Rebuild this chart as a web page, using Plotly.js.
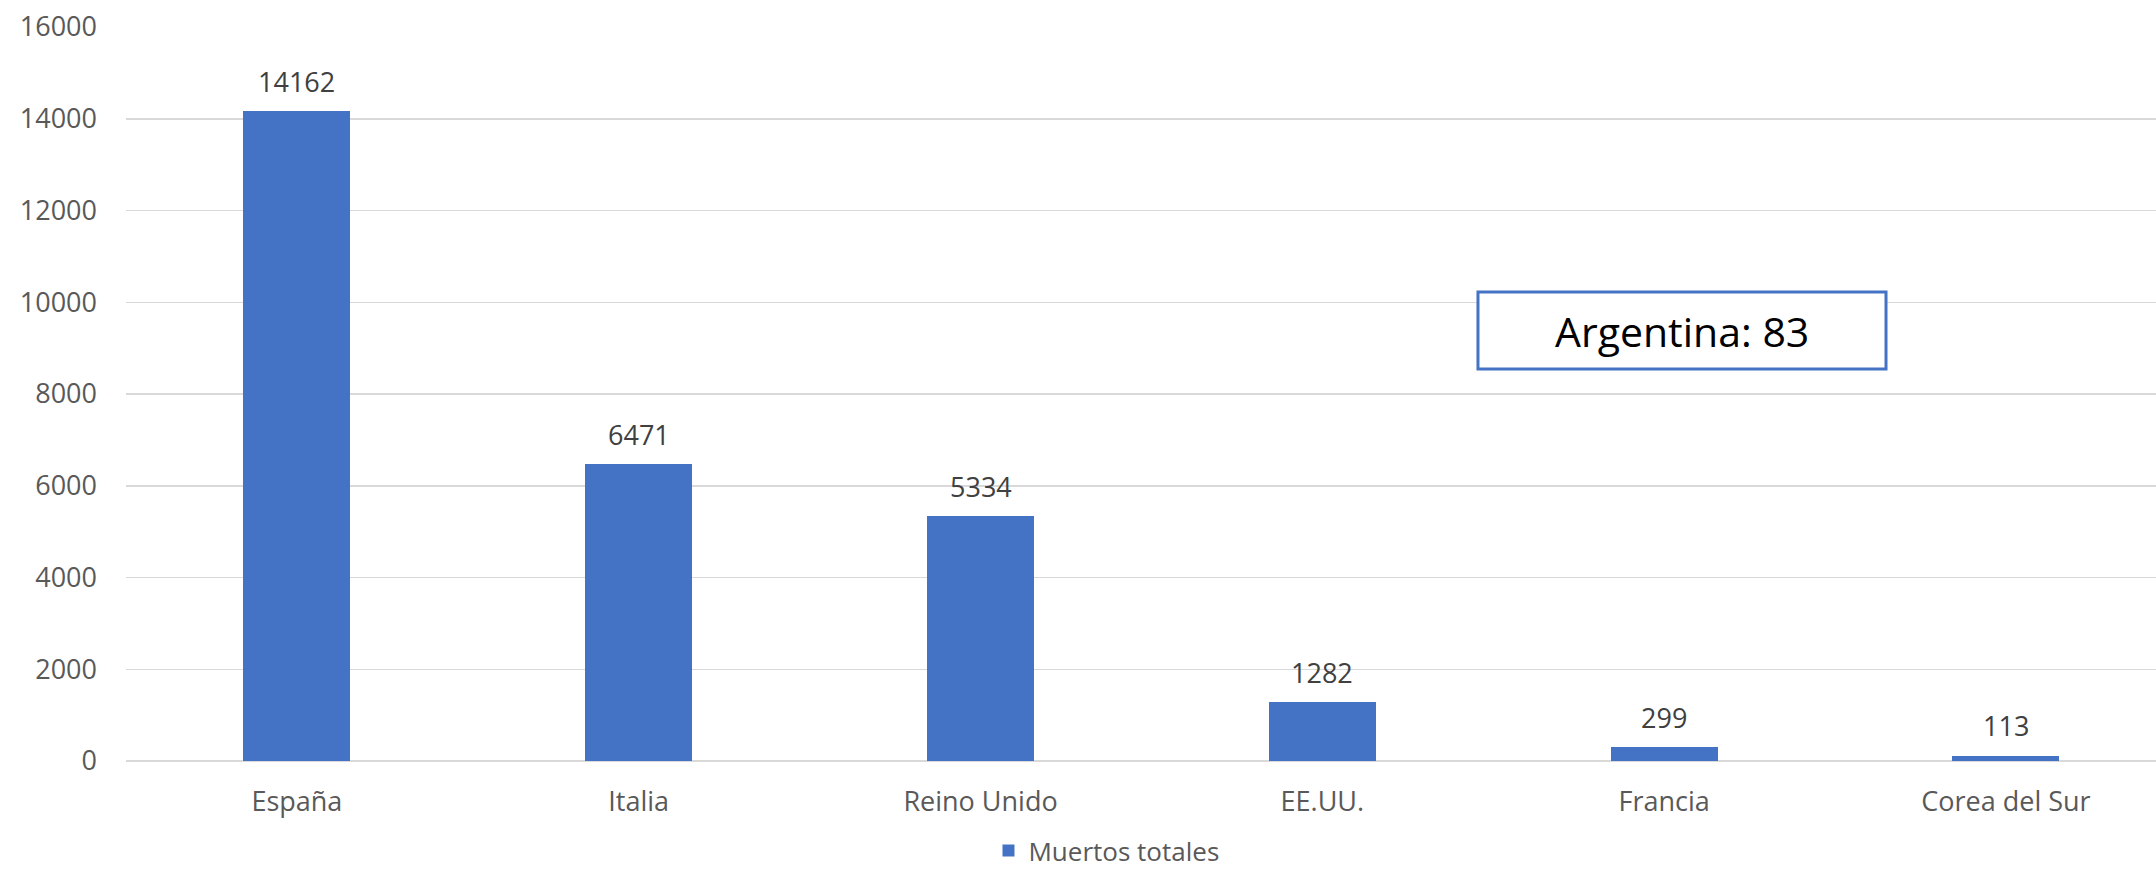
<!DOCTYPE html>
<html>
<head>
<meta charset="utf-8">
<script src="https://cdn.plot.ly/plotly-3.0.1.min.js"></script>
<style>
html,body{margin:0;padding:0;background:#fff;}
#chart{width:2156px;height:877px;}
</style>
</head>
<body>
<div id="chart"></div>
<script>
const categories = ["España", "Italia", "Reino Unido", "EE.UU.", "Francia", "Corea del Sur"];
const muertosTotales = [14162, 6471, 5334, 1282, 299, 113];
const seriesName = "Muertos totales";
const yTicks = [0, 2000, 4000, 6000, 8000, 10000, 12000, 14000, 16000];
const boxText = "Argentina: 83";

const FONT = "'Open Sans', 'Noto Sans', sans-serif";
const BLUE = "#4472C4";

const trace = {
  type: "bar",
  x: categories,
  y: muertosTotales,
  name: seriesName,
  width: 0.313,
  marker: {color: BLUE, line: {width: 0}},
  hoverinfo: "x+y",
  showlegend: true
};

const labelAnnotations = categories.map((c, i) => ({
  x: c, y: muertosTotales[i], xref: "x", yref: "y",
  text: String(muertosTotales[i]),
  showarrow: false, yanchor: "middle", xanchor: "center", yshift: 30,
  font: {family: FONT, size: 27, color: "#404040"}
}));

const layout = {
  width: 2156, height: 877,
  margin: {l: 126, r: 0, t: 27, b: 116, pad: 0, autoexpand: false},
  paper_bgcolor: "#fff", plot_bgcolor: "#fff",
  font: {family: FONT, size: 27, color: "#595959"},
  xaxis: {
    type: "category",
    range: [-0.5, 5.439],
    showgrid: false, zeroline: false, showline: false,
    ticks: "", ticklabelstandoff: 22, automargin: false,
    tickfont: {family: FONT, size: 27, color: "#595959"},
    fixedrange: true
  },
  yaxis: {
    range: [0, 16000],
    tickvals: yTicks,
    ticktext: yTicks.map(String),
    showgrid: true, gridcolor: "#D9D9D9", gridwidth: 1.5,
    zeroline: true, zerolinecolor: "#D9D9D9", zerolinewidth: 1.5,
    showline: false, ticks: "", ticklabelstandoff: 28, automargin: false,
    tickfont: {family: FONT, size: 27, color: "#595959"},
    fixedrange: true
  },
  showlegend: true,
  legend: {
    orientation: "h", x: 0.483, xanchor: "center",
    yref: "container", y: 0.03, yanchor: "middle",
    font: {family: FONT, size: 26, color: "#595959"},
    bgcolor: "rgba(0,0,0,0)"
  },
  shapes: [{
    type: "rect", xref: "paper", yref: "paper",
    x0: 0.666, x1: 0.867, y0: 0.534, y1: 0.639,
    line: {color: BLUE, width: 3}, fillcolor: "#fff", layer: "above"
  }],
  annotations: labelAnnotations.concat([{
    xref: "paper", yref: "paper", x: 0.7665, y: 0.5865,
    text: boxText, showarrow: false, xanchor: "center", yanchor: "middle",
    font: {family: FONT, size: 41, color: "#000"}
  }]),
  bargap: 0
};

Plotly.newPlot("chart", [trace], layout, {displayModeBar: false, staticPlot: true});
</script>
</body>
</html>
